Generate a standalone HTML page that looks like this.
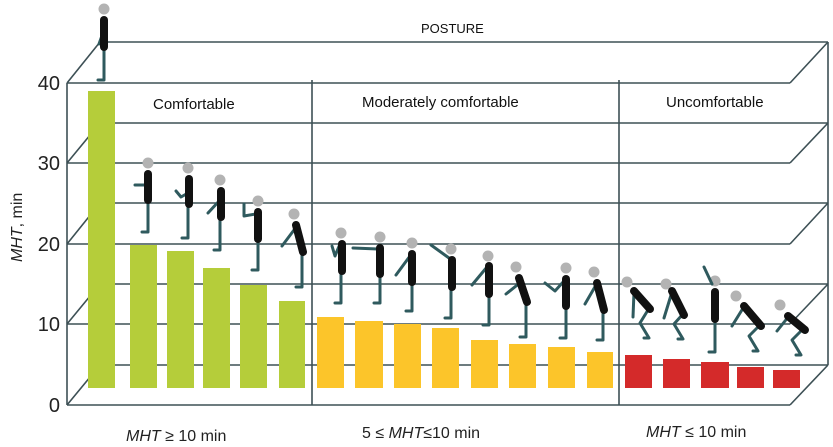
<!DOCTYPE html>
<html><head><meta charset="utf-8"><style>
html,body{margin:0;padding:0;background:#fff;}
svg{display:block;}
text{font-family:"Liberation Sans",sans-serif;}
</style></head><body>
<svg width="833" height="447" viewBox="0 0 833 447" xmlns="http://www.w3.org/2000/svg">
<g stroke="#3d5055" stroke-width="1.6" fill="none">
<line x1="67" y1="83" x2="790" y2="83"/>
<line x1="67" y1="163" x2="790" y2="163"/>
<line x1="67" y1="244" x2="790" y2="244"/>
<line x1="67" y1="324" x2="790" y2="324"/>
<line x1="67" y1="405" x2="790" y2="405"/>
<line x1="100" y1="42" x2="828" y2="42"/>
<line x1="100" y1="123" x2="828" y2="123"/>
<line x1="100" y1="203" x2="828" y2="203"/>
<line x1="100" y1="284" x2="828" y2="284"/>
<line x1="100" y1="365" x2="828" y2="365"/>
<line x1="67" y1="83" x2="100" y2="42"/>
<line x1="67" y1="163" x2="100" y2="123"/>
<line x1="67" y1="244" x2="100" y2="203"/>
<line x1="67" y1="324" x2="100" y2="284"/>
<line x1="67" y1="405" x2="100" y2="365"/>
<line x1="790" y1="83" x2="828" y2="42"/>
<line x1="790" y1="163" x2="828" y2="123"/>
<line x1="790" y1="244" x2="828" y2="203"/>
<line x1="790" y1="324" x2="828" y2="284"/>
<line x1="790" y1="405" x2="828" y2="365"/>
<line x1="67" y1="83" x2="67" y2="405"/>
<line x1="828" y1="42" x2="828" y2="365"/>
<line x1="312" y1="80" x2="312" y2="405"/>
<line x1="619" y1="80" x2="619" y2="405"/>
</g>
<g fill="#b5cd3a">
<rect x="88" y="91" width="27" height="297"/>
<rect x="130" y="245" width="27" height="143"/>
<rect x="167" y="251" width="27" height="137"/>
<rect x="203" y="268" width="27" height="120"/>
<rect x="240" y="285" width="27" height="103"/>
<rect x="279" y="301" width="26" height="87"/>
</g>
<g fill="#fcc52a">
<rect x="317" y="317" width="27" height="71"/>
<rect x="355" y="321" width="28" height="67"/>
<rect x="394" y="324" width="27" height="64"/>
<rect x="432" y="328" width="27" height="60"/>
<rect x="471" y="340" width="27" height="48"/>
<rect x="509" y="344" width="27" height="44"/>
<rect x="548" y="347" width="27" height="41"/>
<rect x="587" y="352" width="26" height="36"/>
</g>
<g fill="#d42a2a">
<rect x="625" y="355" width="27" height="33"/>
<rect x="663" y="359" width="27" height="29"/>
<rect x="701" y="362" width="28" height="26"/>
<rect x="737" y="367" width="27" height="21"/>
<rect x="773" y="370" width="27" height="18"/>
</g>
<g fill="#b3b3b3">
<circle cx="104" cy="9" r="5.5"/>
<circle cx="148" cy="163" r="5.5"/><circle cx="188" cy="168" r="5.5"/><circle cx="220" cy="180" r="5.5"/><circle cx="258" cy="201" r="5.5"/><circle cx="294" cy="214" r="5.5"/>
<circle cx="341" cy="233" r="5.5"/><circle cx="380" cy="237" r="5.5"/><circle cx="412" cy="243" r="5.5"/><circle cx="451" cy="249" r="5.5"/><circle cx="488" cy="256" r="5.5"/><circle cx="516" cy="267" r="5.5"/><circle cx="566" cy="268" r="5.5"/><circle cx="594" cy="272" r="5.5"/>
<circle cx="627" cy="282" r="5.5"/><circle cx="666" cy="284" r="5.5"/><circle cx="715" cy="281" r="5.5"/><circle cx="736" cy="296" r="5.5"/><circle cx="780" cy="305" r="5.5"/>
</g>
<g stroke="#2f5a5e" stroke-width="3" stroke-linecap="round" stroke-linejoin="round" fill="none">
<path d="M104 48V80h-6M104 30l-5 14"/>
<path d="M148 200V232h-6M148 185h-13"/>
<path d="M188 205V238h-6M188 193l-7 4-5-6"/>
<path d="M220 218V250h-6M220 200l-12 13"/>
<path d="M258 240V270h-6M256 214l-12 2 0-12"/>
<path d="M302 255V287h-6M297 226l-15 20"/>
<path d="M341 272V303h-6M340 244l-5 12-3-10"/>
<path d="M380 275V303h-6M378 249l-25 -1"/>
<path d="M412 283V311h-6M410 256l-14 19"/>
<path d="M451 288V318h-6M449 258l-18-13"/>
<path d="M489 295V325h-6M487 267l-15 18"/>
<path d="M526 302V337h-6M521 282l-15 12"/>
<path d="M566 306V338h-6M564 281l-9 10-10-8"/>
<path d="M603 312V340h-6M596 285l-11 19"/>
<path d="M648 310l-8 13 9 15h-5M634 292l-1 25"/>
<path d="M683 314l-9 10 9 15h-5M672 292l-8 26"/>
<path d="M715 318V352h-6M712 284l-8-17"/>
<path d="M759 326l-10 10 9 15h-5M745 305l-13 21"/>
<path d="M802 330l-10 10 9 15h-5M789 316l-12 15"/>
</g>
<g stroke="#111" stroke-width="8" stroke-linecap="round" fill="none">
<path d="M104 20v27"/>
<path d="M148 174v26"/>
<path d="M189 179v25"/>
<path d="M221 191v26"/>
<path d="M258 212v27"/>
<path d="M296 225l7 27"/>
<path d="M342 244v27"/>
<path d="M380 248v26"/>
<path d="M412 254v28"/>
<path d="M452 260v27"/>
<path d="M489 266v28"/>
<path d="M519 278l8 24"/>
<path d="M566 279v27"/>
<path d="M597 283l7 27"/>
<path d="M634 291l16 18"/>
<path d="M672 291l12 24"/>
<path d="M715 292v27"/>
<path d="M744 306l17 20"/>
<path d="M788 316l17 14"/>
</g>
<text x="421" y="33" font-size="13" fill="#111">POSTURE</text>
<text x="153" y="109" font-size="15" fill="#111">Comfortable</text>
<text x="362" y="107" font-size="15" fill="#111">Moderately comfortable</text>
<text x="666" y="107" font-size="15" fill="#111">Uncomfortable</text>
<g font-size="20" fill="#222" text-anchor="end">
<text x="60" y="90">40</text><text x="60" y="170">30</text><text x="60" y="251">20</text><text x="60" y="331">10</text><text x="60" y="412">0</text>
</g>
<text transform="translate(22,262) rotate(-90)" font-size="16" fill="#222"><tspan font-style="italic">MHT</tspan>, min</text>
<text x="126" y="441" font-size="16" fill="#222"><tspan font-style="italic">MHT</tspan> ≥ 10 min</text>
<text x="362" y="438" font-size="16" fill="#222">5 ≤ <tspan font-style="italic">MHT</tspan>≤10 min</text>
<text x="646" y="437" font-size="16" fill="#222"><tspan font-style="italic">MHT</tspan> ≤ 10 min</text>
</svg>
</body></html>
